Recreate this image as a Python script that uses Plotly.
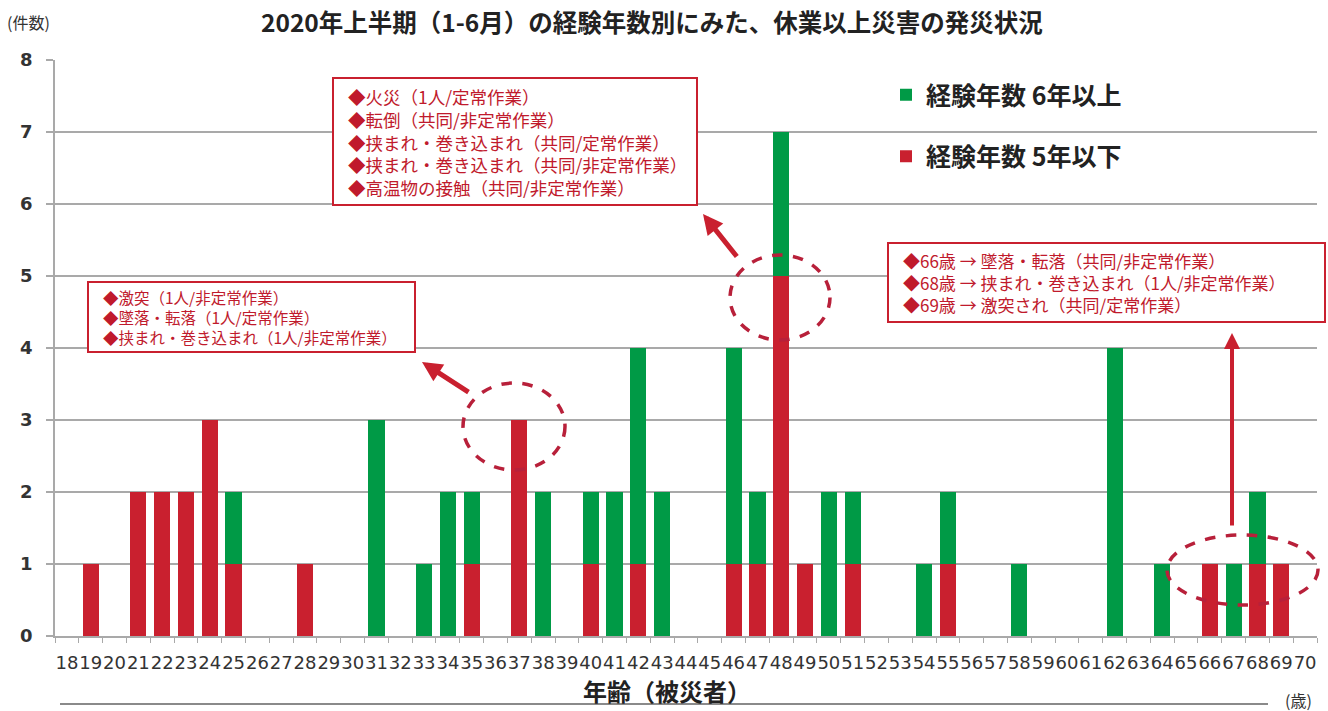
import plotly.graph_objects as go

# 被災者の年齢（歳）
ages = [18, 19, 20, 21, 22, 23, 24, 25, 26, 27, 28, 29, 30, 31, 32, 33, 34, 35,
        36, 37, 38, 39, 40, 41, 42, 43, 44, 45, 46, 47, 48, 49, 50, 51, 52, 53,
        54, 55, 56, 57, 58, 59, 60, 61, 62, 63, 64, 65, 66, 67, 68, 69, 70]

# 経験年数 5年以下（件数）
under5 = [0, 1, 0, 2, 2, 2, 3, 1, 0, 0, 1, 0, 0, 0, 0, 0, 0, 1,
          0, 3, 0, 0, 1, 0, 1, 0, 0, 0, 1, 1, 5, 1, 0, 1, 0, 0,
          0, 1, 0, 0, 0, 0, 0, 0, 0, 0, 0, 0, 1, 0, 1, 1, 0]

# 経験年数 6年以上（件数）
over6 = [0, 0, 0, 0, 0, 0, 0, 1, 0, 0, 0, 0, 0, 3, 0, 1, 2, 1,
         0, 0, 2, 0, 1, 2, 3, 2, 0, 0, 3, 1, 2, 0, 2, 1, 0, 0,
         1, 1, 0, 0, 1, 0, 0, 0, 4, 0, 1, 0, 0, 1, 1, 0, 0]

y_ticks = [0, 1, 2, 3, 4, 5, 6, 7, 8]

note_young = ["◆激突（1人/非定常作業）",
              "◆墜落・転落（1人/定常作業）",
              "◆挟まれ・巻き込まれ（1人/非定常作業）"]
note_48 = ["◆火災（1人/定常作業）",
           "◆転倒（共同/非定常作業）",
           "◆挟まれ・巻き込まれ（共同/定常作業）",
           "◆挟まれ・巻き込まれ（共同/非定常作業）",
           "◆高温物の接触（共同/非定常作業）"]
note_old = ["◆66歳 → 墜落・転落（共同/非定常作業）",
            "◆68歳 → 挟まれ・巻き込まれ（1人/非定常作業）",
            "◆69歳 → 激突され（共同/定常作業）"]

RED = "#c9202f"
GREEN = "#009a46"
TXT_RED = "#c01a2c"
GRID = "#a9a9a9"
JP = "Noto Sans CJK JP"

W, H = 1328, 711
L, R, T, B = 55, 1317, 60, 636


def px(x):
    return (x - L) / (R - L)


def py(y):
    return (B - y) / (B - T)


fig = go.Figure()
fig.add_trace(go.Bar(x=ages, y=under5, name="<b>経験年数 5年以下</b>",
                     marker=dict(color=RED, line=dict(width=0)),
                     legendgroup="b", legendrank=2))
fig.add_trace(go.Bar(x=ages, y=over6, name="<b>経験年数 6年以上</b>",
                     marker=dict(color=GREEN, line=dict(width=0)),
                     legendgroup="a", legendrank=1))

annotations = []
shapes = []

# タイトル・単位
annotations.append(dict(text="<b>2020年上半期（1-6月）の経験年数別にみた、休業以上災害の発災状況</b>",
                        x=px(652), y=py(22), xref="paper", yref="paper",
                        xanchor="center", yanchor="middle", showarrow=False,
                        font=dict(family=JP, size=24.5, color="#222")))
annotations.append(dict(text="(件数)", x=px(5), y=py(22), xref="paper", yref="paper",
                        xanchor="left", yanchor="middle", showarrow=False,
                        font=dict(family=JP, size=16, color="#333")))
annotations.append(dict(text="<b>年齢（被災者）</b>", x=px(667), y=py(690),
                        xref="paper", yref="paper", xanchor="center", yanchor="middle",
                        showarrow=False, font=dict(family=JP, size=24, color="#222")))
annotations.append(dict(text="(歳)", x=px(1314), y=py(700), xref="paper", yref="paper",
                        xanchor="right", yanchor="middle", showarrow=False,
                        font=dict(family=JP, size=16, color="#333")))
shapes.append(dict(type="line", xref="paper", yref="paper",
                   x0=px(60), x1=px(1268), y0=py(704), y1=py(704),
                   line=dict(color="#8a8a8a", width=2)))


def note_box(lines, x0, y0, x1, y1, size):
    shapes.append(dict(type="rect", xref="paper", yref="paper",
                       x0=px(x0), x1=px(x1), y0=py(y0), y1=py(y1),
                       line=dict(color=RED, width=2), fillcolor="white", layer="above"))
    annotations.append(dict(text="<br>".join(lines), x=px(x0 + 13), y=py((y0 + y1) / 2),
                            xref="paper", yref="paper", xanchor="left", yanchor="middle",
                            align="left", showarrow=False,
                            font=dict(family=JP, size=size, color=TXT_RED)))


note_box(note_young, 88, 282, 415, 352, 15.5)
note_box(note_48, 333, 78, 697, 205, 17.5)
note_box(note_old, 888, 243, 1325, 322, 17)


def arrow(hx, hy, tx, ty, w=5):
    annotations.append(dict(text="", x=px(hx), y=py(hy), xref="paper", yref="paper",
                            ax=tx - hx, ay=ty - hy, axref="pixel", ayref="pixel",
                            showarrow=True, arrowhead=2, arrowsize=0.8,
                            arrowwidth=w, arrowcolor=RED))


arrow(422, 362, 470, 393)
arrow(703, 214, 738, 258)
arrow(1232, 333, 1232, 527, 4)


def ring(x0, y0, x1, y1):
    shapes.append(dict(type="circle", xref="paper", yref="paper",
                       x0=px(x0), x1=px(x1), y0=py(y0), y1=py(y1),
                       line=dict(color="#b8203a", width=3.5, dash="dash"),
                       layer="above"))


ring(463, 383, 565, 470)
ring(730, 255, 830, 340)
ring(1167, 535, 1318, 605)

fig.update_layout(
    width=W, height=H,
    margin=dict(l=L, r=W - R, t=T, b=H - B),
    paper_bgcolor="white", plot_bgcolor="white",
    barmode="stack", bargap=0.32,
    font=dict(family=JP, color="#333"),
    showlegend=True,
    legend=dict(x=px(886), y=py(72), xanchor="left", yanchor="top",
                font=dict(family=JP, size=25, color="#222"),
                bgcolor="rgba(0,0,0,0)", tracegroupgap=26, itemwidth=30),
    annotations=annotations,
    shapes=shapes,
)

fig.update_xaxes(range=[17.5, 70.5], tickmode="array", tickvals=ages,
                 ticktext=[str(a) for a in ages], ticks="", ticklabelstandoff=10,
                 tickangle=0,
                 tickfont=dict(family="DejaVu Sans", size=18, color="#333"),
                 showgrid=False, showline=True, linecolor=GRID, linewidth=1.5,
                 zeroline=False,
                 minor=dict(tickmode="array", tickvals=[a - 0.5 for a in ages] + [70.5],
                            ticks="outside", ticklen=5, tickcolor=GRID, tickwidth=1.2,
                            showgrid=False))
fig.update_yaxes(range=[0, 8], tickmode="array", tickvals=y_ticks,
                 ticks="outside", ticklen=7, tickcolor=GRID, tickwidth=1.5,
                 ticklabelstandoff=10,
                 tickfont=dict(family="DejaVu Sans", size=18, color="#333", weight="bold"),
                 showgrid=True, gridcolor=GRID, gridwidth=1.5,
                 showline=True, linecolor=GRID, linewidth=1.5, zeroline=False)

fig.write_html("out.html")
